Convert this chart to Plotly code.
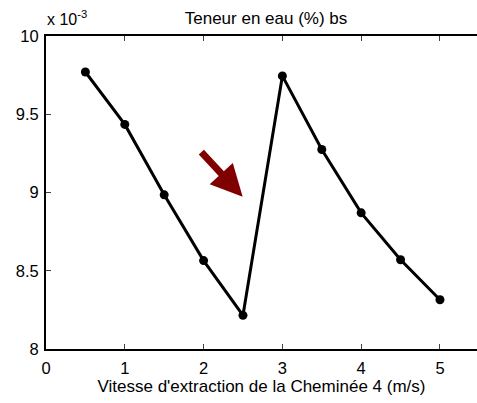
import plotly.graph_objects as go

# vitesse d'extraction (m/s) et teneur en eau (x 10^-3)
vitesse = [0.5, 1.0, 1.5, 2.0, 2.5, 3.0, 3.5, 4.0, 4.5, 5.0]
teneur = [9.77, 9.435, 8.985, 8.565, 8.215, 9.745, 9.275, 8.87, 8.57, 8.315]

x_ticks = [0, 1, 2, 3, 4, 5]
y_ticks = [8, 8.5, 9, 9.5, 10]

police = "Liberation Sans, Arial, sans-serif"

fig = go.Figure()
fig.add_trace(go.Scatter(x=vitesse, y=teneur, mode="lines+markers",
                         line=dict(color="black", width=3),
                         marker=dict(color="black", size=9),
                         showlegend=False))

# flèche rouge foncé
fig.add_annotation(x=2.496, y=8.973, ax=1.954, ay=9.267,
                   xref="x", yref="y", axref="x", ayref="y",
                   text="", showarrow=True, arrowhead=2, arrowsize=0.9,
                   arrowwidth=7, arrowcolor="#800000", standoff=0)

fig.add_annotation(x=0, y=1, xref="paper", yref="paper", xanchor="left",
                   yanchor="bottom", yshift=6, xshift=-1, showarrow=False,
                   text="x 10<sup>-3</sup>", font=dict(size=16, color="black"))

fig.update_layout(
    width=477, height=403,
    margin=dict(l=46, r=0, t=36, b=54),
    paper_bgcolor="white", plot_bgcolor="white",
    font=dict(family=police, size=16, color="black"),
    title=dict(text="Teneur en eau (%) bs", x=266 / 477, xanchor="center",
               xref="container", y=1 - 18 / 403, yanchor="middle",
               font=dict(size=17)),
    xaxis=dict(range=[0, 5.47], tickvals=x_ticks, ticks="inside", ticklen=5,
               showline=True, linecolor="black", linewidth=2, mirror="ticks",
               showgrid=False, zeroline=False, automargin=False,
               tickfont=dict(size=16.5), ticklabelstandoff=3,
               title=dict(text="Vitesse d'extraction de la Cheminée 4 (m/s)",
                          standoff=4, font=dict(size=17))),
    yaxis=dict(range=[8, 10], tickvals=y_ticks, ticks="inside", ticklen=5,
               showline=True, linecolor="black", linewidth=2, mirror=False,
               showgrid=False, zeroline=False, automargin=False,
               tickfont=dict(size=16.5), ticklabelstandoff=2),
)

fig.write_html("out.html", config={"displayModeBar": False},
               post_script="document.body.style.margin = '0';")
